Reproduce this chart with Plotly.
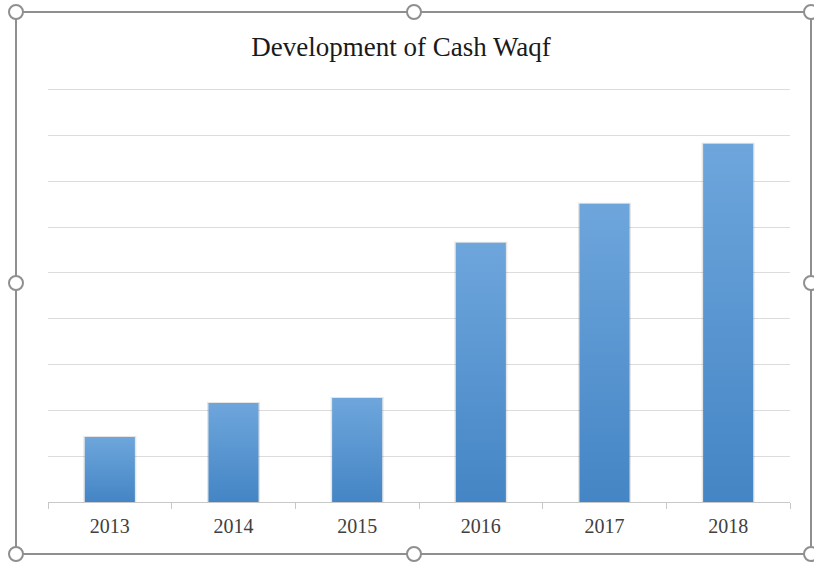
import plotly.graph_objects as go

years = ["2013", "2014", "2015", "2016", "2017", "2018"]
values = [1.42, 2.16, 2.27, 5.66, 6.51, 7.82]
title_text = "Development of Cash Waqf"

W, H = 814, 566
ML, MR, MT, MB = 48, 24, 85, 64
PW, PH = W - ML - MR, H - MT - MB

def px(x):
    return (x - ML) / PW

def py(y):
    return (H - MB - y) / PH

fig = go.Figure()
half = 0.2025
for i, v in enumerate(values):
    # soft shadow
    s = 0.012
    fig.add_trace(go.Scatter(
        x=[i - half - s, i + half + s, i + half + s, i - half - s, i - half - s],
        y=[0, 0, v + 0.02, v + 0.02, 0],
        fill="toself", fillcolor="rgba(0,0,0,0.10)", mode="lines",
        line=dict(width=0), hoverinfo="skip", showlegend=False))
    fig.add_trace(go.Scatter(
        x=[i - half, i + half, i + half, i - half, i - half],
        y=[0, 0, v, v, 0],
        fill="toself", mode="lines", line=dict(width=0),
        fillgradient=dict(type="vertical", start=0, stop=v,
                          colorscale=[[0, "#4485c5"], [1, "#6ea6dc"]]),
        name=years[i], showlegend=False))

fig.update_layout(
    width=W, height=H,
    margin=dict(l=ML, r=MR, t=MT, b=MB),
    paper_bgcolor="white", plot_bgcolor="white",
    title=dict(text=title_text, x=401 / W, xref="container", xanchor="center",
               y=(H - 47) / H, yref="container", yanchor="middle",
               font=dict(family="Liberation Serif", size=27, color="#1a1a1a")),
    xaxis=dict(range=[-0.5, 5.5], tickmode="array", tickvals=list(range(len(years))),
               ticktext=years, showgrid=False, zeroline=False,
               showline=True, linecolor="#c8c8c8", linewidth=1,
               ticks="outside", ticklen=6, tickcolor="rgba(0,0,0,0)",
               minor=dict(tickmode="array", tickvals=[i - 0.5 for i in range(len(years) + 1)],
                          ticks="outside", ticklen=6, tickcolor="#c8c8c8", showgrid=False),
               tickfont=dict(family="Liberation Serif", size=20, color="#404040"),
               fixedrange=True),
    yaxis=dict(range=[0, 9.1], tickmode="array", tickvals=list(range(10)),
               showgrid=True, gridcolor="#dcdcdc", gridwidth=1,
               showticklabels=False, zeroline=False, showline=False, fixedrange=True),
)

# Frame with selection handles (Excel chart object)
frame_color = "#8f8f8f"
L, R, T, B = 16, 811, 12, 554
fig.add_shape(type="rect", xref="paper", yref="paper",
              x0=px(L), x1=px(R), y0=py(B), y1=py(T),
              line=dict(color=frame_color, width=2), layer="above")
r = 7
mx, my = 414, 283
for (cx, cy) in [(L, T), (mx, T), (R, T), (L, my), (R, my), (L, B), (mx, B), (R, B)]:
    fig.add_shape(type="circle", xref="paper", yref="paper",
                  x0=px(cx - r), x1=px(cx + r), y0=py(cy + r), y1=py(cy - r),
                  line=dict(color=frame_color, width=2), fillcolor="white", layer="above")

fig.write_html("out.html")
